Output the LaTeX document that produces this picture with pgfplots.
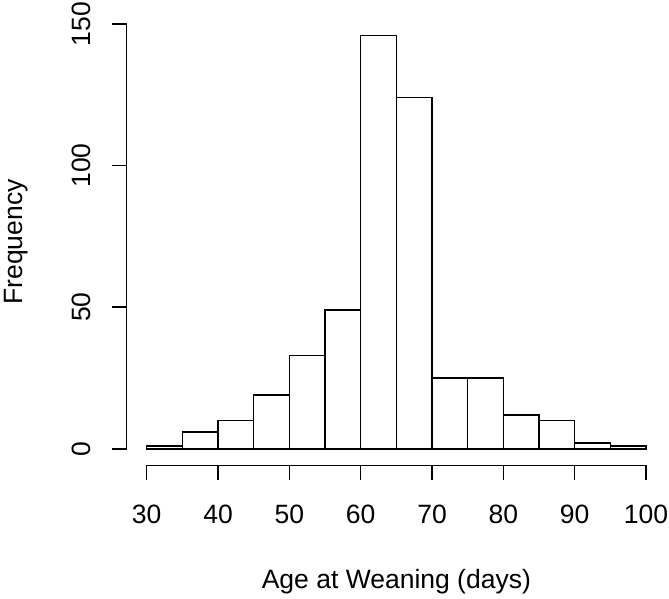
\documentclass[border=0pt]{standalone}
\usepackage{pgfplots}
\pgfplotsset{compat=1.18}
\usepackage{fontspec}
\setmainfont{Liberation Sans}
\begin{document}
\fontsize{26.5}{30}\selectfont
\begin{tikzpicture}
\begin{axis}[
  width=539.3pt, height=446.5pt, scale only axis,
  xmin=27.2, xmax=102.8, ymin=-5.84, ymax=151.84,
  axis x line*=bottom, axis y line*=left,
  x axis line style={-, black, line width=1.6pt, shorten <=19.96pt, shorten >=19.96pt},
  y axis line style={-, black, line width=1.6pt, shorten <=16.54pt, shorten >=5.21pt},
  clip=false,
  xtick={30,40,50,60,70,80,90,100},
  ytick={0,50,100,150},
  minor tick num=0,
  tick align=outside,
  major tick length=14.5pt,
  tick style={black, line width=1.6pt},
  /pgf/number format/assume math mode=true,
  xticklabel style={anchor=north, inner sep=0pt},
  yticklabel style={rotate=90, anchor=south, inner sep=0pt},
  xticklabel shift=25pt,
  yticklabel shift=21pt,
  xlabel={Age at Weaning (days)},
  ylabel={Frequency},
  xlabel style={at={(axis description cs:0.5,-0.2748)}, anchor=base, inner sep=0pt},
  ylabel style={at={(axis description cs:-0.1932,0.5)}, anchor=base, inner sep=0pt},
]
\addplot[ybar interval, fill=white, draw=black, line width=1.6pt] coordinates {
  (30,1) (35,6) (40,10) (45,19) (50,33) (55,49) (60,146) (65,124)
  (70,25) (75,25) (80,12) (85,10) (90,2) (95,1) (100,1)
};
\coordinate (LL) at (rel axis cs:0,0);
\end{axis}
\pgfresetboundingbox
\path (LL) ++(-126.7pt,-132.7pt) rectangle ++(669pt,598pt);
\end{tikzpicture}
\end{document}
